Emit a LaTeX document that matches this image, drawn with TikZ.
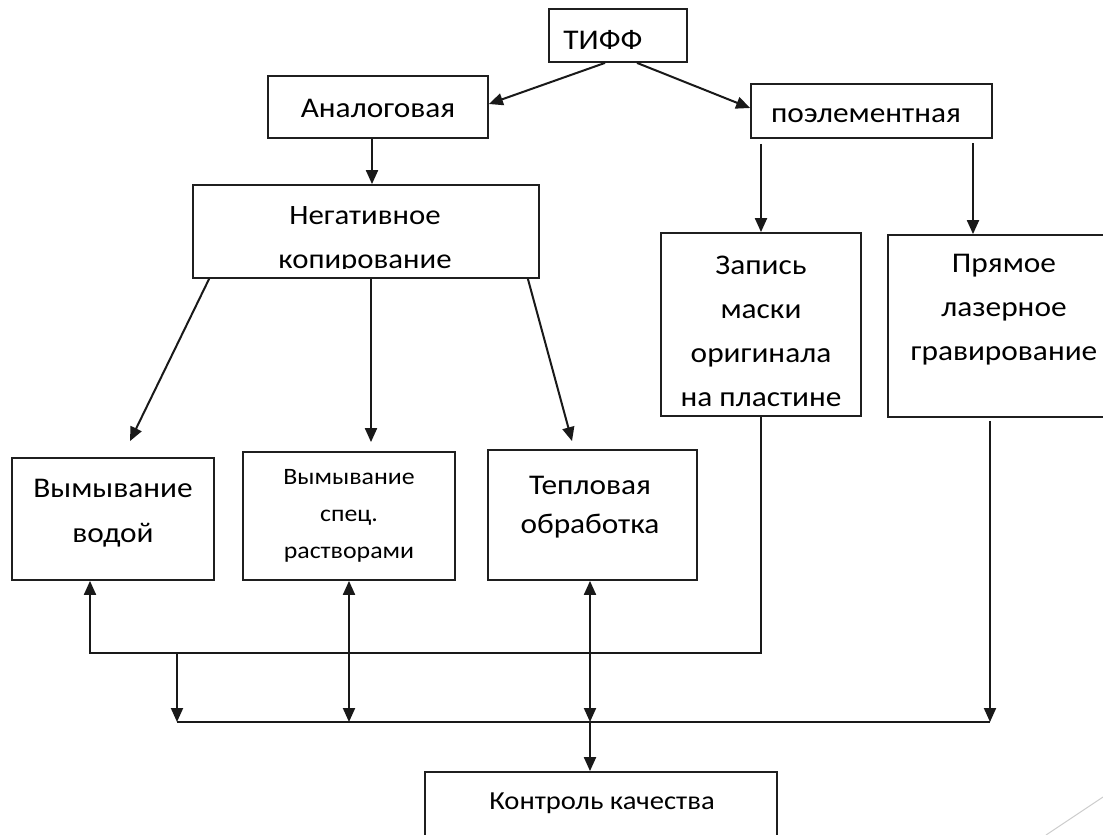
\documentclass[tikz,border=0pt]{standalone}
\usepackage{fontspec}
\setmainfont{Carlito}[FakeStretch=1.1]
\usetikzlibrary{arrows.meta,calc}
\begin{document}
\begin{tikzpicture}[x=1pt,y=-1pt,
  box/.style={draw=black!88,line width=1.8pt,rectangle,inner sep=0pt},
  txt/.style={inner sep=0pt,align=center,text=black,font=\fontsize{28.5}{44}\selectfont},
  smalltxt/.style={inner sep=0pt,align=center,text=black,font=\fontsize{23.5}{37}\selectfont},
  tip/.tip={Triangle[length=14pt,width=12pt]},
  arr/.style={line width=2pt,draw=black!90,-tip},
  darr/.style={line width=2pt,draw=black!90,tip-tip},
  ln/.style={line width=2pt,draw=black!90}]
\useasboundingbox (0,0) rectangle (1103,835);
\clip (0,0) rectangle (1103,835);
\fill[white] (0,0) rectangle (1103,835);

% boxes
\node[box,minimum width=138pt,minimum height=53pt] (tiff) at (618,35.5) {};
\node[box,minimum width=220pt,minimum height=62pt] (analog) at (378,107) {};
\node[box,minimum width=241pt,minimum height=54pt] (poel) at (871.5,111) {};
\node[box,minimum width=346pt,minimum height=93pt] (neg) at (366,231.5) {};
\node[box,minimum width=200pt,minimum height=183pt] (zap) at (761,324.5) {};
\node[box,minimum width=224pt,minimum height=182pt] (pryam) at (1000,326) {};
\node[box,minimum width=202pt,minimum height=122pt] (vod) at (113,519) {};
\node[box,minimum width=212pt,minimum height=128pt] (spec) at (349,516) {};
\node[box,minimum width=209pt,minimum height=130pt] (tepl) at (592.5,515) {};
\node[box,minimum width=352pt,minimum height=88pt] (kontr) at (601,816) {};

% texts
\node[txt] (ttiff) at (603,40) {ТИФФ};
\node[txt] (tanalog) at (378,108) {Аналоговая};
\node[txt] (tpoel) at (866,116) {поэлементная};
\begin{scope}
  \clip (193,185) rectangle (539,268);
  \node[txt,font=\fontsize{28}{44}\selectfont] (tneg) at (365,240) {Негативное\\копирование};
\end{scope}
\node[txt] (tzap) at (761,331) {Запись\\маски\\оригинала\\на пластине};
\node[txt] (tpryam) at (1004,310) {Прямое\\лазерное\\гравирование};
\node[txt,font=\fontsize{28.5}{45}\selectfont] (tvod) at (113,513) {Вымывание\\водой};
\node[smalltxt] (tspec) at (349,516) {Вымывание\\спец.\\растворами};
\node[txt,font=\fontsize{28.5}{39}\selectfont] (ttepl) at (590,507) {Тепловая\\обработка};
\node[txt,font=\fontsize{26}{40}\selectfont] (tkontr) at (602,803) {Контроль качества};

% upper connectors
\coordinate (pr0) at (973,143);
\draw[arr] ([xshift=-13pt]tiff.south) -- ([yshift=3pt]analog.east);
\draw[arr] ([xshift=19pt]tiff.south) -- ([yshift=3pt]poel.west);
\draw[arr] ([xshift=-6pt]analog.south) -- ([xshift=-6pt]analog.south |- neg.north);
\draw[arr] ($(poel.south -| zap.north)+(0,5)$) -- (zap.north);
\draw[arr] (pr0) -- (pr0 |- pryam.north);
\draw[arr] ($(neg.south west)+(17,0)$) -- ($(vod.north)+(17,-16)$);
\draw[arr] ($(neg.south)+(5,0)$) -- ($(spec.north)+(22,-9)$);
\draw[arr] ($(neg.south east)+(-12,0)$) -- ($(tepl.north)+(-20.5,-8)$);

% lower bus
\coordinate (bus1) at (177,652);
\coordinate (bus2) at (177,722);
\coordinate (busend) at (990,722);
\coordinate (tk) at (590,722);
\draw[arr] (zap.south) |- ($(vod.south)+(-23,72)$) -- ($(vod.south)+(-23,0)$);
\draw[arr] (bus1) -- (bus2);
\draw[ln] (bus2) -- (busend);
\draw[arr] ($(pryam.south -| busend)+(0,3)$) -- (busend);
\draw[darr] (spec.south) -- (spec.south |- bus2);
\draw[darr] (tepl.south -| tk) -- (tk);
\draw[arr] (tk) -- (tk |- kontr.north);

% slide decoration
\draw[black!20,line width=1pt] (1103,797) -- (1046,835);
\end{tikzpicture}
\end{document}
